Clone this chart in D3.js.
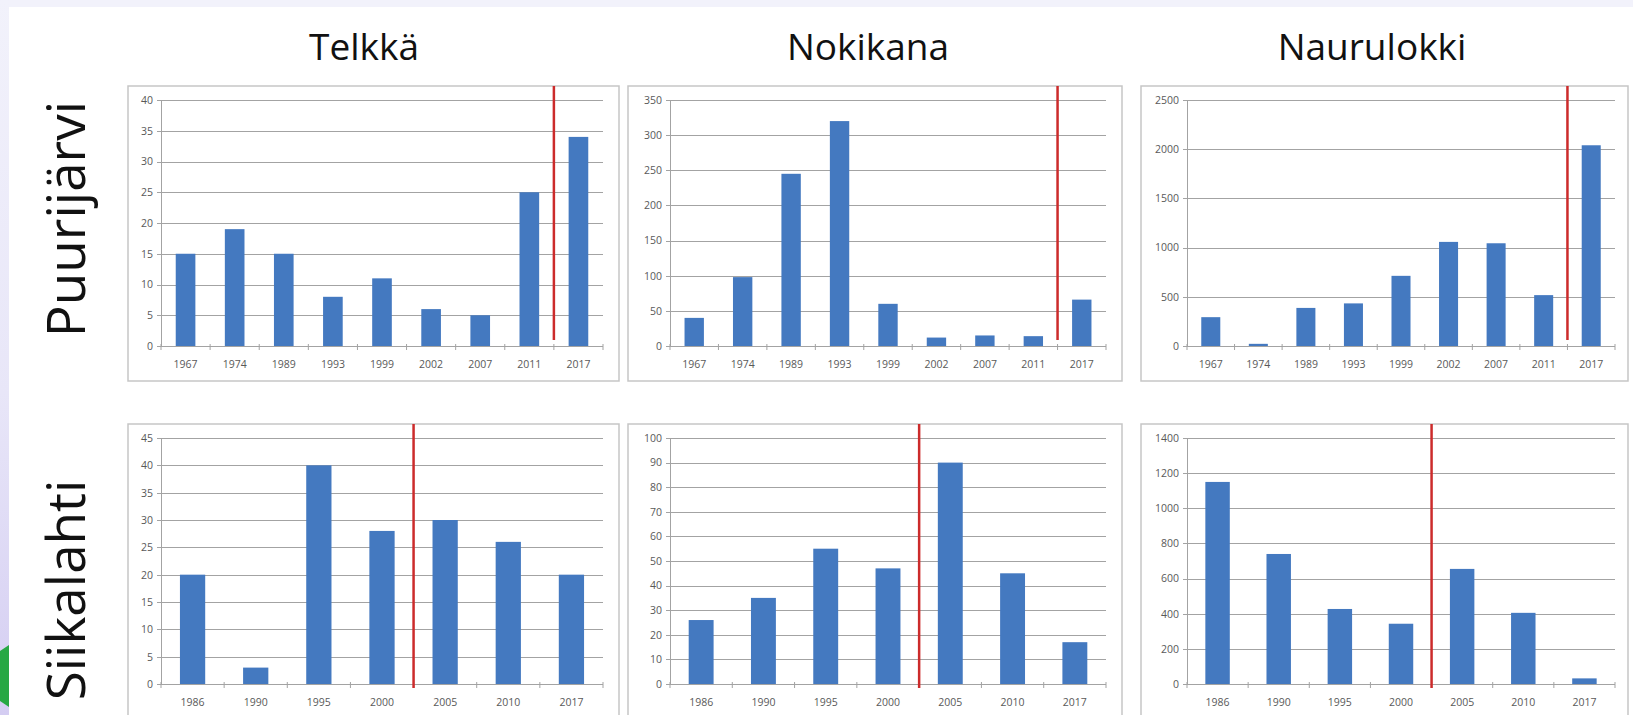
<!DOCTYPE html>
<html>
<head>
<meta charset="utf-8">
<script src="https://cdn.jsdelivr.net/npm/d3@7"></script>
<style>
  body { margin: 0; background: #fff; }
  svg { display: block; font-family: "Open Sans", sans-serif; }
  .axis text { font-size: 10.5px; fill: #595959; font-family: "Open Sans", sans-serif; }
  .axis .domain { display: none; }
  .title { font-size: 37px; fill: #111; }
  .row-label { font-size: 53px; fill: #111; }
</style>
</head>
<body>
<div id="slide"></div>
<script>
const species = ["Telkkä", "Nokikana", "Naurulokki"];
const sites = ["Puurijärvi", "Siikalahti"];

const puurijarvi_years = ["1967", "1974", "1989", "1993", "1999", "2002", "2007", "2011", "2017"];
const siikalahti_years = ["1986", "1990", "1995", "2000", "2005", "2010", "2017"];

const telkka_puurijarvi = [15, 19, 15, 8, 11, 6, 5, 25, 34];
const nokikana_puurijarvi = [40, 98, 245, 320, 60, 12, 15, 14, 66];
const naurulokki_puurijarvi = [293, 22, 387, 433, 713, 1058, 1044, 517, 2040];

const telkka_siikalahti = [20, 3, 40, 28, 30, 26, 20];
const nokikana_siikalahti = [26, 35, 55, 47, 90, 45, 17];
const naurulokki_siikalahti = [1150, 740, 427, 343, 655, 405, 32];

const puurijarvi_axis_max = [40, 350, 2500];
const puurijarvi_axis_step = [5, 50, 500];
const siikalahti_axis_max = [45, 100, 1400];
const siikalahti_axis_step = [5, 10, 200];

// red line is drawn just before this year
const puurijarvi_break = "2017";
const siikalahti_break = "2005";

const __CONFIG__ = {
  main_id: "slide",
  width: 1633,
  height: 715,
  col_x: [[128, 619], [628, 1122], [1141, 1628]],
  row_y: [86, 424],
  panel_h: 295,
  plot_left: [33, 42, 46],
  plot_right: [16, 16, 13],
  plot_top: 14,
  plot_zero: 260,
  red_tail: [-6, 4],
  title_x: [364, 868, 1372],
  title_y: 60,
  row_label_x: 64,
  row_label_y: [219, 590],
  bar_color: "#4479c0",
  grid_color: "#a3a3a3",
  border_color: "#c6c6c6",
  red_color: "#cc2b2b",
  inner_pad: 0.6
};

function select_main(config=__CONFIG__) {
  return d3.select(`#${config.main_id}`);
}

function draw_panel(svg, col, row, years, values, max, step, brk) {
  const C = __CONFIG__;
  const [x0, x1] = C.col_x[col];
  const y0 = C.row_y[row];
  const g = svg.append("g").attr("transform", `translate(${x0},${y0})`);

  g.append("rect")
    .attr("x", 0).attr("y", 0)
    .attr("width", x1 - x0).attr("height", C.panel_h)
    .attr("fill", "#fff")
    .attr("stroke", C.border_color)
    .attr("stroke-width", 1.5);

  const left = C.plot_left[col];
  const right = x1 - x0 - C.plot_right[col];

  const x = d3.scaleBand()
    .domain(years)
    .range([left, right])
    .paddingInner(C.inner_pad)
    .paddingOuter(C.inner_pad / 2);

  const y = d3.scaleLinear()
    .domain([0, max])
    .range([C.plot_zero, C.plot_top]);

  const ticks = d3.range(0, max + step / 2, step);

  // gridlines
  g.append("g")
    .selectAll("line")
    .data(ticks)
    .join("line")
    .attr("x1", left - 4)
    .attr("x2", right)
    .attr("y1", d => Math.round(y(d)) + 0.5)
    .attr("y2", d => Math.round(y(d)) + 0.5)
    .attr("stroke", C.grid_color)
    .attr("stroke-width", 1);

  // y axis
  const yAxis = g.append("g")
    .attr("class", "axis")
    .attr("transform", `translate(${left},0)`)
    .call(d3.axisLeft(y).tickValues(ticks).tickSize(0).tickPadding(8).tickFormat(d3.format("d")));
  yAxis.selectAll(".tick line").remove();

  g.append("line")
    .attr("x1", left + 0.5).attr("x2", left + 0.5)
    .attr("y1", C.plot_top).attr("y2", C.plot_zero)
    .attr("stroke", C.grid_color);

  // category boundary ticks
  const bounds = years.map(d => x(d) - x.step() * C.inner_pad / 2).concat([right]);
  g.append("g")
    .selectAll("line")
    .data(bounds)
    .join("line")
    .attr("x1", d => d).attr("x2", d => d)
    .attr("y1", C.plot_zero - 2).attr("y2", C.plot_zero + 4)
    .attr("stroke", C.grid_color);

  // bars
  g.append("g")
    .selectAll("rect")
    .data(years.map((d, i) => ({ year: d, value: values[i] })))
    .join("rect")
    .attr("x", d => x(d.year))
    .attr("width", x.bandwidth())
    .attr("y", d => y(d.value))
    .attr("height", d => y(0) - y(d.value))
    .attr("fill", C.bar_color);

  // x axis labels
  g.append("g")
    .attr("class", "axis")
    .attr("transform", `translate(0,${C.plot_zero})`)
    .call(d3.axisBottom(x).tickSize(0).tickPadding(15));

  // red marker line between periods
  const rx = x(brk) - x.step() * C.inner_pad / 2;
  g.append("line")
    .attr("x1", rx).attr("x2", rx)
    .attr("y1", 0)
    .attr("y2", y(0) + C.red_tail[row])
    .attr("stroke", C.red_color)
    .attr("stroke-width", 2.5);
}

function main() {
  const C = __CONFIG__;
  const svg = select_main().append("svg")
    .attr("width", C.width)
    .attr("height", C.height);

  const defs = svg.append("defs");
  const grad = defs.append("linearGradient")
    .attr("id", "edge")
    .attr("x1", 0).attr("y1", 0).attr("x2", 0).attr("y2", 1);
  grad.append("stop").attr("offset", "0%").attr("stop-color", "#f2f2fb");
  grad.append("stop").attr("offset", "55%").attr("stop-color", "#e8e6f8");
  grad.append("stop").attr("offset", "100%").attr("stop-color", "#d4cdf2");

  svg.append("rect").attr("width", C.width).attr("height", 7).attr("fill", "#f2f2fb");
  svg.append("rect").attr("width", 9).attr("height", C.height).attr("fill", "url(#edge)");
  svg.append("polygon")
    .attr("points", "0,651 9,645 9,707 0,701")
    .attr("fill", "#27a844");

  species.forEach((name, i) => {
    svg.append("text")
      .attr("class", "title")
      .attr("x", C.title_x[i])
      .attr("y", C.title_y)
      .attr("text-anchor", "middle")
      .text(name);
  });

  sites.forEach((name, i) => {
    svg.append("text")
      .attr("class", "row-label")
      .attr("transform", `translate(${C.row_label_x},${C.row_label_y[i]}) rotate(-90)`)
      .attr("text-anchor", "middle")
      .attr("dominant-baseline", "central")
      .text(name);
  });

  const top_values = [telkka_puurijarvi, nokikana_puurijarvi, naurulokki_puurijarvi];
  const bottom_values = [telkka_siikalahti, nokikana_siikalahti, naurulokki_siikalahti];

  top_values.forEach((vals, i) => {
    draw_panel(svg, i, 0, puurijarvi_years, vals,
      puurijarvi_axis_max[i], puurijarvi_axis_step[i], puurijarvi_break);
  });
  bottom_values.forEach((vals, i) => {
    draw_panel(svg, i, 1, siikalahti_years, vals,
      siikalahti_axis_max[i], siikalahti_axis_step[i], siikalahti_break);
  });
}

main();
</script>
</body>
</html>
